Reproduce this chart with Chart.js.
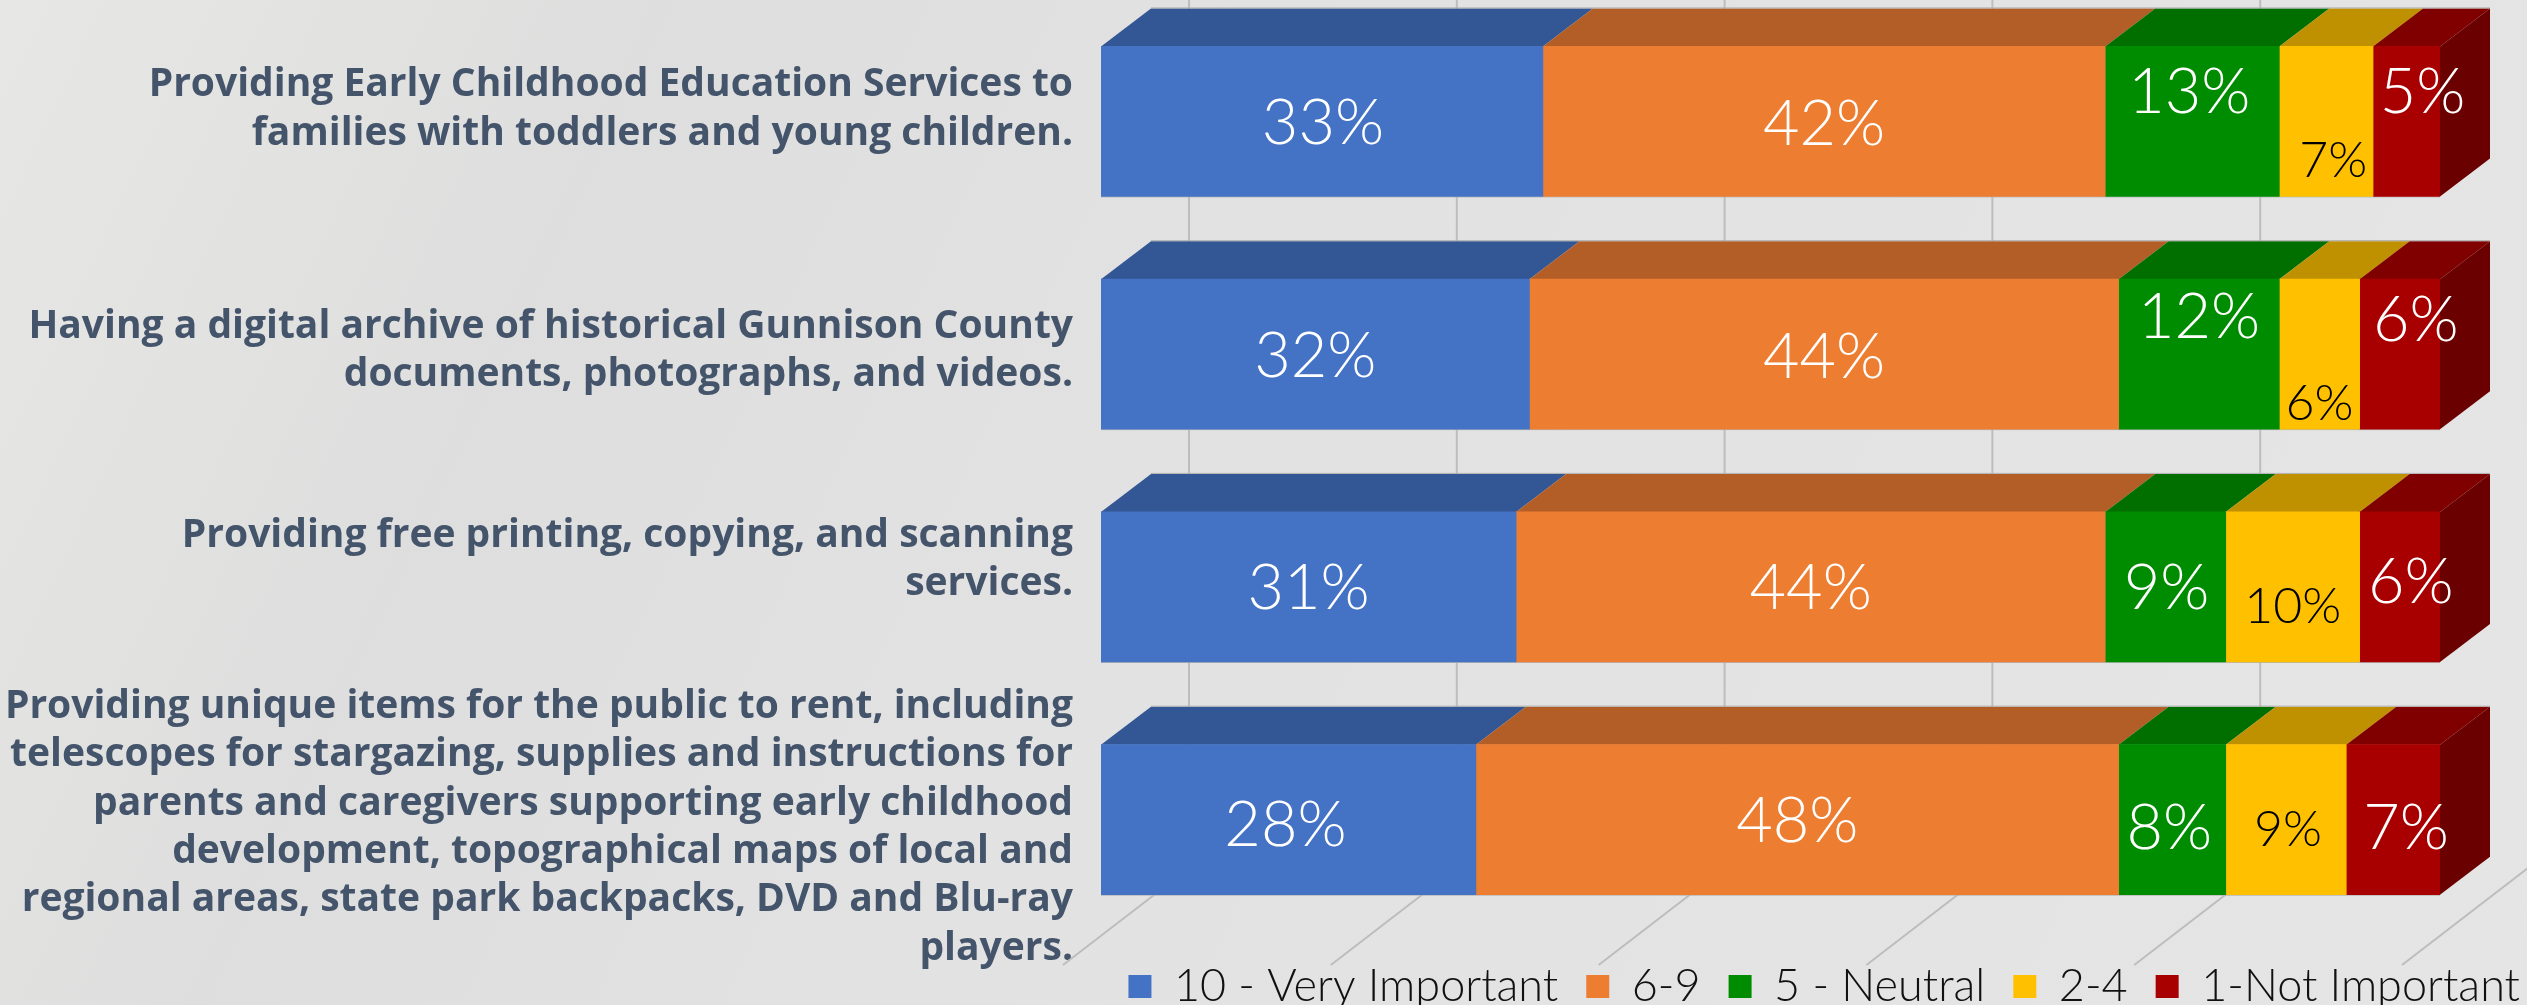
<!DOCTYPE html>
<html><head><meta charset="utf-8">
<script src="https://cdn.jsdelivr.net/npm/chart.js@4"></script>
<style>
html,body{margin:0;padding:0;width:2527px;height:1005px;overflow:hidden;
background:linear-gradient(115deg,#e7e7e5 0%,#dedede 22%,#e2e2e2 45%,#e5e5e5 100%);}
canvas{display:block}
</style></head><body>
<canvas id="c" width="2527" height="1005"></canvas>
<script>
const categories = [
  ["Providing Early Childhood Education Services to","families with toddlers and young children."],
  ["Having a digital archive of historical Gunnison County","documents, photographs, and videos."],
  ["Providing free printing, copying, and scanning","services."],
  ["Providing unique items for the public to rent, including","telescopes for stargazing, supplies and instructions for","parents and caregivers supporting early childhood","development, topographical maps of local and","regional areas, state park backpacks, DVD and Blu-ray","players."]
];
const seriesNames = ["10 - Very Important","6-9","5 - Neutral","2-4","1-Not Important"];
const veryImportant = [33,32,31,28];
const sixToNine     = [42,44,44,48];
const neutral       = [13,12,9,8];
const twoToFour     = [7,6,10,9];
const notImportant  = [5,6,6,7];

const frontColors = ["#4472C4","#ED7D31","#008C00","#FFC000","#A80000"];
const topColors   = ["#335694","#B35E27","#006F00","#BF9000","#800000"];
const sideColor   = "#6B0000";
const labelColors = ["#fff","#fff","#fff","#000","#fff"];
const labelSizes  = [63,63,63,50,63];
// manual placement of the data labels, [dx,dy] per series, per bar
const labelNudge = [
  [[1,2],[0,3],[0,2],[-3,6]],
  [[0,3],[0,4],[0,2],[0,2]],
  [[-3,-29],[0,-36],[1,2],[-3,9]],
  [[7,39],[0,50],[0,20],[2,10]],
  [[16,-29],[16,-33],[11,-4],[13,9]]
];
const tickNudge = [-12,-3,-27,8];
const DX = 50, DY = 38;
const WALL_DX = 88, FLOOR_DX = -38, WALL_Y = 868, FLOOR_Y = 965;

const depthPlugin = {
  id:'depth',
  beforeDraw(chart){
    const y = chart.scales.y;
    y.getLabelItems(chart.chartArea).forEach((it,i)=>{
      if(!it.__moved){ it.options.translation[1]+=tickNudge[i]; it.__moved=true; }
    });
  },
  beforeDatasetsDraw(chart){
    const ctx=chart.ctx, x=chart.scales.x;
    ctx.save();
    ctx.strokeStyle='#bdbdbd'; ctx.lineWidth=2;
    x.ticks.forEach(t=>{
      const p=x.getPixelForValue(t.value);
      ctx.beginPath();
      ctx.moveTo(p+FLOOR_DX,FLOOR_Y);
      ctx.lineTo(p+WALL_DX,WALL_Y);
      ctx.lineTo(p+WALL_DX,0);
      ctx.stroke();
    });
    // depth faces of the bars
    chart.data.datasets.forEach((ds,d)=>{
      chart.getDatasetMeta(d).data.forEach(bar=>{
        const {x:xe,y:ye,base,height}=bar.getProps(['x','y','base','height']);
        const top=ye-height/2, bot=ye+height/2;
        ctx.fillStyle=topColors[d];
        ctx.beginPath();
        ctx.moveTo(base,top);ctx.lineTo(xe,top);ctx.lineTo(xe+DX,top-DY);ctx.lineTo(base+DX,top-DY);
        ctx.closePath();ctx.fill();
        ctx.strokeStyle='#b0b0b0';ctx.lineWidth=1;
        ctx.beginPath();ctx.moveTo(base+DX,top-DY-.5);ctx.lineTo(xe+DX,top-DY-.5);ctx.stroke();
        ctx.beginPath();ctx.moveTo(base,bot+.5);ctx.lineTo(xe,bot+.5);ctx.stroke();
        if(d===chart.data.datasets.length-1){
          ctx.fillStyle=sideColor;
          ctx.beginPath();
          ctx.moveTo(xe,top);ctx.lineTo(xe+DX,top-DY);ctx.lineTo(xe+DX,bot-DY);ctx.lineTo(xe,bot);
          ctx.closePath();ctx.fill();
        }
      });
    });
    ctx.restore();
  },
  afterDatasetsDraw(chart){
    const ctx=chart.ctx;
    ctx.save();
    ctx.textAlign='center';ctx.textBaseline='middle';
    chart.data.datasets.forEach((ds,d)=>{
      ctx.fillStyle=labelColors[d];
      ctx.font=`300 ${labelSizes[d]}px Lato`;
      chart.getDatasetMeta(d).data.forEach((bar,i)=>{
        const c=bar.getCenterPoint();
        const n=labelNudge[d][i];
        ctx.fillText(ds.data[i]+'%',c.x+n[0],c.y+n[1]);
      });
    });
    ctx.restore();
  },
  afterLayout(chart){
    const l=chart.legend;
    l.left+=108; l.right+=108;
  }
};

const allValues=[veryImportant,sixToNine,neutral,twoToFour,notImportant];
new Chart(document.getElementById('c'),{
  type:'bar',
  data:{labels:categories,datasets:seriesNames.map((n,i)=>({
    label:n,data:allValues[i],backgroundColor:frontColors[i],borderWidth:0,
    barThickness:150
  }))},
  options:{
    indexAxis:'y',responsive:false,animation:false,
    layout:{padding:{left:0,right:87,top:5,bottom:-14}},
    plugins:{
      tooltip:{enabled:false},
      legend:{position:'bottom',align:'end',labels:{
        boxWidth:23,boxHeight:23,padding:28,color:'#111',
        font:{family:'Lato',size:45,weight:'300'}}}
    },
    scales:{
      x:{stacked:true,min:0,max:100,display:false,ticks:{stepSize:20}},
      y:{stacked:true,grid:{display:false,drawTicks:false},border:{display:false},
        afterFit(s){s.width=1101;s.paddingTop=0;s.paddingBottom=0;},
        ticks:{autoSkip:false,crossAlign:'near',padding:28,color:'#44546A',
          font:{family:'"Open Sans"',size:39,weight:'700',lineHeight:1.24}}}
    }
  },
  plugins:[depthPlugin]
});
</script></body></html>
